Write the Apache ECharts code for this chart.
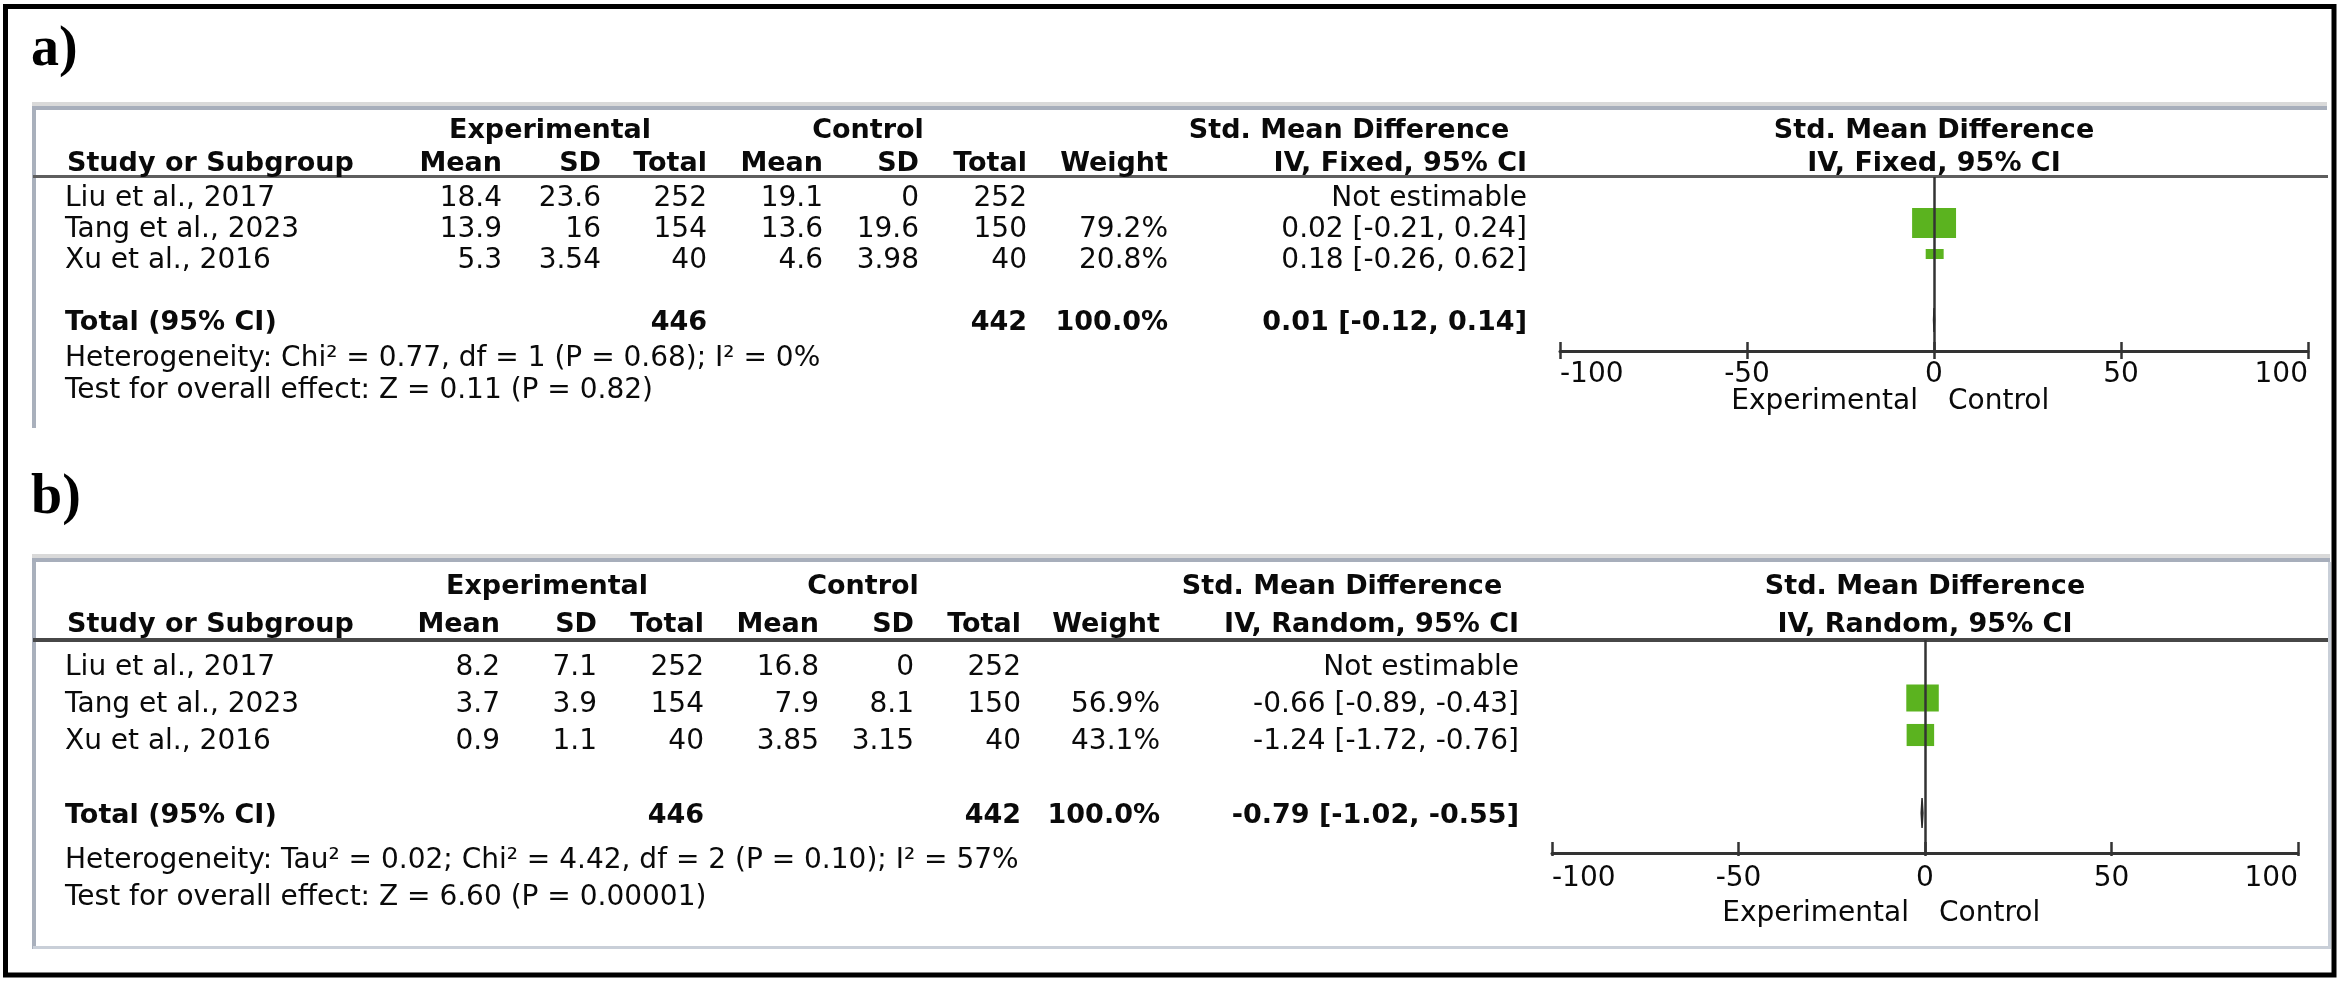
<!DOCTYPE html>
<html>
<head>
<meta charset="utf-8">
<script src="https://cdn.jsdelivr.net/npm/echarts@6/dist/echarts.min.js"></script>
<style>
html,body{margin:0;padding:0;background:#fff;}
#c{width:2341px;height:982px;}
</style>
</head>
<body>
<div id="c"></div>
<script>
// ---------------- data ----------------
const studies = ['Liu et al., 2017', 'Tang et al., 2023', 'Xu et al., 2016'];
const colHeaders = ['Mean', 'SD', 'Total', 'Mean', 'SD', 'Total', 'Weight'];
const axisTicks = [-100, -50, 0, 50, 100];

// panel a
const aExpMean = [18.4, 13.9, 5.3];
const aExpSD = [23.6, 16, 3.54];
const aExpN = [252, 154, 40];
const aCtlMean = [19.1, 13.6, 4.6];
const aCtlSD = [0, 19.6, 3.98];
const aCtlN = [252, 150, 40];
const aWeight = [null, 79.2, 20.8];
const aSMD = [null, 0.02, 0.18];
const aLow = [null, -0.21, -0.26];
const aHigh = [null, 0.24, 0.62];
const aTotalN = [446, 442];
const aTotalWeight = 100.0;
const aTotalCI = [0.01, -0.12, 0.14];
const aMethod = 'IV, Fixed, 95% CI';
const aHetero = 'Heterogeneity: Chi\u00b2 = 0.77, df = 1 (P = 0.68); I\u00b2 = 0%';
const aOverall = 'Test for overall effect: Z = 0.11 (P = 0.82)';

// panel b
const bExpMean = [8.2, 3.7, 0.9];
const bExpSD = [7.1, 3.9, 1.1];
const bExpN = [252, 154, 40];
const bCtlMean = [16.8, 7.9, 3.85];
const bCtlSD = [0, 8.1, 3.15];
const bCtlN = [252, 150, 40];
const bWeight = [null, 56.9, 43.1];
const bSMD = [null, -0.66, -1.24];
const bLow = [null, -0.89, -1.72];
const bHigh = [null, -0.43, -0.76];
const bTotalN = [446, 442];
const bTotalWeight = 100.0;
const bTotalCI = [-0.79, -1.02, -0.55];
const bMethod = 'IV, Random, 95% CI';
const bHetero = 'Heterogeneity: Tau\u00b2 = 0.02; Chi\u00b2 = 4.42, df = 2 (P = 0.10); I\u00b2 = 57%';
const bOverall = 'Test for overall effect: Z = 6.60 (P = 0.00001)';

// ---------------- layout / style ----------------
const FONT = '"DejaVu Sans", Verdana, sans-serif';
const SERIF = '"Liberation Serif", "Times New Roman", serif';
const GREEN = '#5bb31f';
const TEXT = '#0a0a0a';
const DY = 3;
const TOTAL_ROW = 4;

const panels = [
  {
    label: 'a)', labelY: 48,
    data: {expMean: aExpMean, expSD: aExpSD, expN: aExpN, ctlMean: aCtlMean, ctlSD: aCtlSD, ctlN: aCtlN,
           weight: aWeight, smd: aSMD, low: aLow, high: aHigh, totalN: aTotalN, totalWeight: aTotalWeight,
           totalCI: aTotalCI, method: aMethod, hetero: aHetero, overall: aOverall},
    grid: {left: 1560, top: 177, width: 748, height: 174},
    rowTop: 196, pitch: 31,
    headerY: [128, 160.5], heteroY: 356, overallY: 387.5, belowY: 398.5, labelMargin: 10,
    tickOut: 8, tickIn: 9,
    studyX: 65, cols: [502, 601, 707, 823, 919, 1027, 1168], ciRight: 1527,
    expC: 550, ctlC: 868, smdC: 1349,
    sq: {wa: 0.445, wb: 8.7, ha: 0.342, hb: 2.9}, diamondHalf: 12
  },
  {
    label: 'b)', labelY: 496,
    data: {expMean: bExpMean, expSD: bExpSD, expN: bExpN, ctlMean: bCtlMean, ctlSD: bCtlSD, ctlN: bCtlN,
           weight: bWeight, smd: bSMD, low: bLow, high: bHigh, totalN: bTotalN, totalWeight: bTotalWeight,
           totalCI: bTotalCI, method: bMethod, hetero: bHetero, overall: bOverall},
    grid: {left: 1552, top: 640, width: 746, height: 213},
    rowTop: 665, pitch: 37,
    headerY: [584, 622], heteroY: 858, overallY: 894.5, belowY: 911, labelMargin: 12,
    tickOut: 3, tickIn: 11,
    studyX: 65, cols: [500, 597, 704, 819, 914, 1021, 1160], ciRight: 1519,
    expC: 547, ctlC: 863, smdC: 1342,
    sq: {wa: 0.36, wb: 12, ha: 0.35, hb: 7}, diamondHalf: 15
  }
];

const chart = echarts.init(document.getElementById('c'), null, {renderer: 'canvas', width: 2341, height: 982});

const grids = [], xAxes = [], yAxes = [], series = [];
panels.forEach((p, i) => {
  const d = p.data;
  grids.push(Object.assign({containLabel: false, outerBoundsMode: 'none'}, p.grid));
  const yMin = -(p.rowTop - p.grid.top) / p.pitch;
  const yMax = yMin + p.grid.height / p.pitch;
  yAxes.push({type: 'value', gridIndex: i, inverse: true, min: yMin, max: yMax, show: false});
  const xBase = {
    type: 'value', gridIndex: i, min: axisTicks[0], max: axisTicks[axisTicks.length - 1],
    interval: axisTicks[1] - axisTicks[0], position: 'bottom', splitLine: {show: false}
  };
  xAxes.push(Object.assign({}, xBase, {
    axisLine: {show: true, onZero: false, lineStyle: {color: '#333', width: 3}},
    axisTick: {show: true, inside: false, length: p.tickOut, lineStyle: {color: '#333', width: 2.5}},
    axisLabel: {show: true, fontSize: 28, fontFamily: FONT, color: TEXT, margin: p.labelMargin,
                alignMinLabel: 'left', alignMaxLabel: 'right', formatter: v => String(v)}
  }));
  xAxes.push(Object.assign({}, xBase, {
    axisLine: {show: false, onZero: false},
    axisTick: {show: true, inside: true, length: p.tickIn, lineStyle: {color: '#333', width: 2.5}},
    axisLabel: {show: false}
  }));
  const xi = i * 2;

  const ciData = [], sqData = [];
  studies.forEach((s, k) => {
    if (d.smd[k] === null) return;
    ciData.push([d.low[k], d.high[k], k]);
    sqData.push([d.smd[k], k, d.weight[k]]);
  });

  series.push({
    type: 'custom', xAxisIndex: xi, yAxisIndex: i, silent: true, z: 3,
    encode: {x: [0, 1], y: 2},
    data: ciData,
    renderItem: (params, api) => {
      const a = api.coord([api.value(0), api.value(2)]);
      const b = api.coord([api.value(1), api.value(2)]);
      return {type: 'line', shape: {x1: a[0], y1: a[1] - 4, x2: b[0], y2: b[1] - 4},
              style: {stroke: '#222', lineWidth: 1.5}};
    }
  });
  series.push({
    type: 'scatter', xAxisIndex: xi, yAxisIndex: i, silent: true, z: 4,
    symbol: 'rect', symbolOffset: [0, -4],
    symbolSize: val => [p.sq.wa * val[2] + p.sq.wb, p.sq.ha * val[2] + p.sq.hb],
    itemStyle: {color: GREEN, opacity: 1},
    data: sqData,
    markLine: {
      silent: true, symbol: ['none', 'none'], animation: false,
      label: {show: false},
      lineStyle: {color: '#333', width: 2.5, type: 'solid'},
      data: [{xAxis: 0}]
    }
  });
  series.push({
    type: 'custom', xAxisIndex: xi, yAxisIndex: i, silent: true, z: 5,
    encode: {x: [0, 1, 2], y: 3},
    data: [[d.totalCI[1], d.totalCI[0], d.totalCI[2], TOTAL_ROW]],
    renderItem: (params, api) => {
      const lo = api.coord([api.value(0), api.value(3)]);
      const mid = api.coord([api.value(1), api.value(3)]);
      const hi = api.coord([api.value(2), api.value(3)]);
      const h = p.diamondHalf;
      return {type: 'polygon',
              shape: {points: [[lo[0], lo[1]], [mid[0], mid[1] - h], [hi[0], hi[1]], [mid[0], mid[1] + h]]},
              style: {fill: '#2a2a2a', stroke: '#2a2a2a', lineWidth: 1.5}};
    }
  });
});

chart.setOption({
  animation: false,
  backgroundColor: '#fff',
  grid: grids, xAxis: xAxes, yAxis: yAxes, series: series
});

// ---------------- table text & frame ----------------
function txt(x, y, s, bold, align) {
  return {type: 'text', x: x, y: y + DY, silent: true, z: 10,
          style: {text: s, fontFamily: FONT, fontSize: bold ? 27 : 28, fontWeight: bold ? 'bold' : 'normal',
                  fill: TEXT, align: align || 'left', verticalAlign: 'middle'}};
}
function box(x, y, w, h, color) {
  return {type: 'rect', silent: true, z: 1, shape: {x: x, y: y, width: w, height: h}, style: {fill: color}};
}
const fmtCI = (e, l, h) => e.toFixed(2) + ' [' + l.toFixed(2) + ', ' + h.toFixed(2) + ']';

const g = [];
g.push({type: 'rect', silent: true, z: 20, shape: {x: 5.5, y: 6.5, width: 2328.5, height: 968.5},
        style: {fill: 'none', stroke: '#000', lineWidth: 5}});
// panel a frame
g.push(box(32, 102, 2295, 4, '#d9d9d9'), box(32, 106, 2295, 4, '#a7aebb'),
       box(32, 110, 4, 318, '#a9b0bc'), box(33, 175, 2295, 3, '#5e5e5e'));
// panel b frame
g.push(box(32, 554, 2298, 4, '#d9d9d9'), box(32, 558, 2298, 4, '#a7aebb'),
       box(32, 562, 4, 387, '#a9b0bc'), box(33, 638, 2297, 4, '#474747'),
       box(33, 946, 2298, 3, '#c9cfd8'), box(2328, 562, 3, 387, '#c9cfd8'));

panels.forEach((p, i) => {
  const d = p.data;
  const rowY = k => chart.convertToPixel({gridIndex: i}, [0, k])[1];
  const zeroX = chart.convertToPixel({gridIndex: i}, [0, 0])[0];
  const plotC = p.grid.left + p.grid.width / 2;

  g.push({type: 'text', x: 31, y: p.labelY + 3, silent: true, z: 10,
          style: {text: p.label, fontFamily: SERIF, fontSize: 56, fontWeight: 'bold', fill: '#000',
                  align: 'left', verticalAlign: 'middle'}});

  // header row 1
  g.push(txt(p.expC, p.headerY[0], 'Experimental', true, 'center'));
  g.push(txt(p.ctlC, p.headerY[0], 'Control', true, 'center'));
  g.push(txt(p.smdC, p.headerY[0], 'Std. Mean Difference', true, 'center'));
  g.push(txt(plotC, p.headerY[0], 'Std. Mean Difference', true, 'center'));
  // header row 2
  g.push(txt(p.studyX + 2, p.headerY[1], 'Study or Subgroup', true, 'left'));
  colHeaders.forEach((h, c) => g.push(txt(p.cols[c], p.headerY[1], h, true, 'right')));
  g.push(txt(p.ciRight, p.headerY[1], d.method, true, 'right'));
  g.push(txt(plotC, p.headerY[1], d.method, true, 'center'));

  // study rows
  studies.forEach((s, k) => {
    const y = rowY(k);
    g.push(txt(p.studyX, y, s, false, 'left'));
    const vals = [d.expMean[k], d.expSD[k], d.expN[k], d.ctlMean[k], d.ctlSD[k], d.ctlN[k]];
    vals.forEach((v, c) => g.push(txt(p.cols[c], y, String(v), false, 'right')));
    if (d.weight[k] !== null) g.push(txt(p.cols[6], y, d.weight[k].toFixed(1) + '%', false, 'right'));
    g.push(txt(p.ciRight, y, d.smd[k] === null ? 'Not estimable' : fmtCI(d.smd[k], d.low[k], d.high[k]), false, 'right'));
  });

  // total row
  const ty = rowY(TOTAL_ROW);
  g.push(txt(p.studyX, ty, 'Total (95% CI)', true, 'left'));
  g.push(txt(p.cols[2], ty, String(d.totalN[0]), true, 'right'));
  g.push(txt(p.cols[5], ty, String(d.totalN[1]), true, 'right'));
  g.push(txt(p.cols[6], ty, d.totalWeight.toFixed(1) + '%', true, 'right'));
  g.push(txt(p.ciRight, ty, fmtCI(d.totalCI[0], d.totalCI[1], d.totalCI[2]), true, 'right'));

  g.push(txt(p.studyX, p.heteroY, d.hetero, false, 'left'));
  g.push(txt(p.studyX, p.overallY, d.overall, false, 'left'));

  // favours labels
  g.push(txt(zeroX - 16, p.belowY, 'Experimental', false, 'right'));
  g.push(txt(zeroX + 14, p.belowY, 'Control', false, 'left'));
});

chart.setOption({graphic: g});
</script>
</body>
</html>
